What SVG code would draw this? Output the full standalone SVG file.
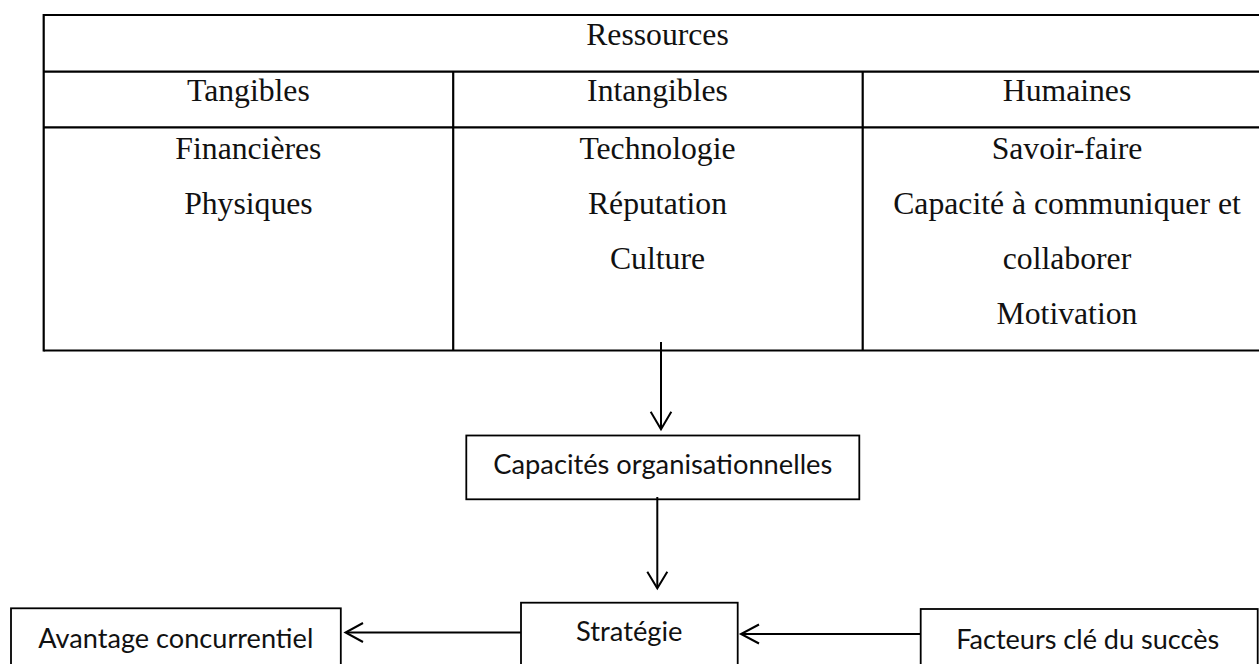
<svg xmlns="http://www.w3.org/2000/svg" width="1259" height="664" viewBox="0 0 1259 664">
<style>
.tl{stroke:#000;stroke-width:2.2;fill:none}
.serif{font-family:"Liberation Serif","Times New Roman",serif;font-size:31.7px;fill:#111;text-anchor:middle}
.box{fill:#fff;stroke:#000;stroke-width:1.8}
.sans{font-family:Lato,"Open Sans","Liberation Sans",sans-serif;font-size:26px;fill:#111;text-anchor:middle}
.conn{stroke:#000;stroke-width:2;fill:none}
.head{stroke:#000;stroke-width:2;fill:none;stroke-linejoin:miter}
</style>
<rect width="1259" height="664" fill="#fff"/>
<g id="table">
<line class="tl" x1="43.7" y1="15" x2="1272" y2="15"/>
<line class="tl" x1="43.7" y1="71.7" x2="1272" y2="71.7"/>
<line class="tl" x1="43.7" y1="127.3" x2="1272" y2="127.3"/>
<line class="tl" x1="43.7" y1="350.5" x2="1272" y2="350.5"/>
<line class="tl" x1="43.7" y1="13.9" x2="43.7" y2="351.6"/>
<line class="tl" x1="453.2" y1="71.7" x2="453.2" y2="350.5"/>
<line class="tl" x1="862.7" y1="71.7" x2="862.7" y2="350.5"/>
<text class="serif" x="657.5" y="44.5">Ressources</text>
<text class="serif" x="248.4" y="101.3">Tangibles</text>
<text class="serif" x="657.5" y="101.3">Intangibles</text>
<text class="serif" x="1067" y="101.3">Humaines</text>
<text class="serif" x="248.4" y="158.5">Financières</text>
<text class="serif" x="248.4" y="213.5">Physiques</text>
<text class="serif" x="657.5" y="158.5">Technologie</text>
<text class="serif" x="657.5" y="213.5">Réputation</text>
<text class="serif" x="657.5" y="268.5">Culture</text>
<text class="serif" x="1067" y="158.5">Savoir-faire</text>
<text class="serif" x="1067" y="213.5">Capacité à communiquer et</text>
<text class="serif" x="1067" y="268.5">collaborer</text>
<text class="serif" x="1067" y="323.5">Motivation</text>
</g>
<g id="capacites">
<rect class="box" x="466.3" y="435.5" width="393" height="63.8"/>
<text class="sans" x="662.8" y="474" textLength="339" lengthAdjust="spacingAndGlyphs">Capacités organisationnelles</text>
</g>
<g id="strategie">
<rect class="box" x="521" y="602.7" width="216.7" height="100"/>
<text class="sans" x="629.3" y="640.5" textLength="106.5" lengthAdjust="spacingAndGlyphs">Stratégie</text>
</g>
<g id="avantage">
<rect class="box" x="11" y="608.3" width="329.8" height="100"/>
<text class="sans" x="175.8" y="648" textLength="275" lengthAdjust="spacingAndGlyphs">Avantage concurrentiel</text>
</g>
<g id="facteurs">
<rect class="box" x="920.7" y="609" width="337" height="100"/>
<text class="sans" x="1087.7" y="648.5" textLength="263" lengthAdjust="spacingAndGlyphs">Facteurs clé du succès</text>
</g>
<g id="connectors">
<line class="conn" x1="661" y1="342" x2="661" y2="428.5"/>
<polyline class="head" points="650.7,411.7 661,429.3 671.3,411.7"/>
<line class="conn" x1="657.3" y1="497" x2="657.3" y2="587.5"/>
<polyline class="head" points="647.3,571.7 657.3,588.3 667.3,571.7"/>
<line class="conn" x1="521" y1="632.5" x2="346.5" y2="632.5"/>
<polyline class="head" points="363,623 345.5,632.5 363,642"/>
<line class="conn" x1="920.7" y1="634" x2="742" y2="634"/>
<polyline class="head" points="759,624.5 741,634 759,643.5"/>
</g>
</svg>
